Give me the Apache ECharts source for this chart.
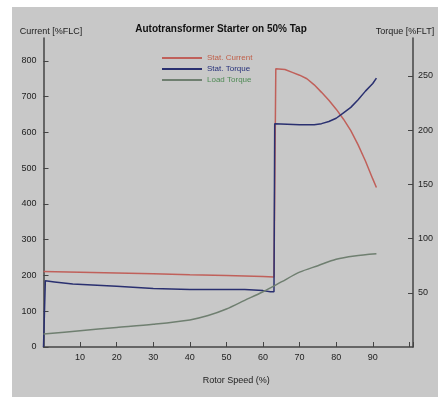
<!DOCTYPE html>
<html>
<head>
<meta charset="utf-8">
<script src="https://cdn.jsdelivr.net/npm/echarts@6/dist/echarts.min.js"></script>
<style>
    html, body { margin: 0; padding: 0; background: #fff; }
    #chart { width: 438px; height: 397px; }
</style>
</head>
<body>
<div id="chart"></div>
<script>
// rotor speed (%) and values
var currentSpeed  = [0, 10, 20, 30, 40, 50, 60, 63, 63.5, 66, 68, 70, 72, 74, 76, 78, 80, 82, 84, 86, 88, 90, 91];
var currentValues = [211, 209, 207, 205, 202, 200, 197, 196, 778, 776, 768, 760, 750, 733, 712, 690, 665, 637, 605, 565, 520, 470, 446];

var torqueSpeed  = [0, 0.5, 3, 8, 20, 30, 40, 55, 60, 62, 63, 63.2, 70, 74, 76, 78, 80, 82, 84, 86, 88, 90, 91];
var torqueValues = [0, 61, 60, 58, 56, 54, 53, 53, 52, 51, 51, 206, 205, 205, 206, 208, 211, 216, 221, 228, 236, 243, 248];

var loadSpeed  = [0, 10, 20, 30, 40, 45, 50, 55, 60, 65, 70, 75, 80, 85, 91];
var loadValues = [12, 15, 18, 21, 25, 29, 35, 43, 51, 60, 69, 75, 81, 84, 86];

var seriesNames = ['Stat. Current', 'Stat. Torque', 'Load Torque'];

function pairs(xs, ys) {
    var out = [];
    for (var i = 0; i < xs.length; i++) {
        out.push([xs[i], ys[i]]);
    }
    return out;
}

var chart = echarts.init(document.getElementById('chart'));

var axisFont = { fontFamily: 'Liberation Sans', fontSize: 9, color: '#222' };

var option = {
    backgroundColor: '#c8c8c8',
    animation: false,
    title: {
        text: 'Autotransformer Starter on 50% Tap',
        left: 216,
        top: 19,
        textAlign: 'center',
        textStyle: { fontFamily: 'Liberation Sans', fontSize: 10, fontWeight: 'bold', color: '#111' }
    },
    legend: {
        orient: 'vertical',
        left: 157,
        top: 49,
        icon: 'rect',
        itemWidth: 40,
        itemHeight: 2,
        itemGap: 3,
        textStyle: { fontFamily: 'Liberation Sans', fontSize: 8 },
        data: [
            { name: seriesNames[0], textStyle: { color: '#c0604a' } },
            { name: seriesNames[1], textStyle: { color: '#26307a' } },
            { name: seriesNames[2], textStyle: { color: '#4f8a55' } }
        ]
    },
    graphic: [
        { type: 'rect', left: 0, top: 0, shape: { width: 12, height: 397 }, style: { fill: '#fff' } },
        { type: 'rect', left: 0, top: 0, shape: { width: 438, height: 7 }, style: { fill: '#fff' } }
    ],
    grid: { left: 43.5, right: 25, top: 38, bottom: 50 },
    xAxis: {
        type: 'value',
        min: 0,
        max: 101,
        interval: 10,
        name: 'Rotor Speed (%)',
        nameLocation: 'middle',
        nameGap: 29,
        nameTextStyle: { fontFamily: 'Liberation Sans', fontSize: 9, color: '#222', padding: [0, 0, 0, 16] },
        axisLine: { lineStyle: { color: '#444', width: 1.5 } },
        axisTick: { inside: true, length: 5, lineStyle: { color: '#444' } },
        axisLabel: Object.assign({
            margin: 6,
            showMinLabel: false,
            formatter: function (v) { return v >= 100 ? '' : v; }
        }, axisFont),
        splitLine: { show: false }
    },
    yAxis: [{
        type: 'value',
        min: 0,
        max: 864,
        interval: 100,
        name: 'Current [%FLC]',
        nameLocation: 'end',
        nameGap: 6,
        nameTextStyle: { fontFamily: 'Liberation Sans', fontSize: 9, color: '#222', align: 'center', verticalAlign: 'middle', padding: [0, 0, 0, 15] },
        axisLine: { show: true, lineStyle: { color: '#444', width: 1.5 } },
        axisTick: { show: true, inside: true, length: 5, lineStyle: { color: '#444' } },
        axisLabel: Object.assign({ margin: 7, showMaxLabel: false }, axisFont),
        splitLine: { show: false }
    }, {
        type: 'value',
        position: 'right',
        min: 0,
        max: 285,
        interval: 50,
        name: 'Torque [%FLT]',
        nameLocation: 'end',
        nameGap: 6,
        nameTextStyle: { fontFamily: 'Liberation Sans', fontSize: 9, color: '#222', align: 'center', verticalAlign: 'middle', padding: [0, 16, 0, 0] },
        axisLine: { show: true, lineStyle: { color: '#444', width: 1.5 } },
        axisTick: { show: true, inside: true, length: 5, lineStyle: { color: '#444' } },
        axisLabel: Object.assign({ margin: 5, showMaxLabel: false, showMinLabel: false }, axisFont),
        splitLine: { show: false }
    }],
    series: [{
        name: seriesNames[0],
        type: 'line',
        yAxisIndex: 0,
        showSymbol: false,
        color: '#c0605a',
        lineStyle: { width: 1.5 },
        data: pairs(currentSpeed, currentValues)
    }, {
        name: seriesNames[1],
        type: 'line',
        yAxisIndex: 1,
        showSymbol: false,
        color: '#2a3070',
        lineStyle: { width: 1.5 },
        data: pairs(torqueSpeed, torqueValues)
    }, {
        name: seriesNames[2],
        type: 'line',
        yAxisIndex: 1,
        showSymbol: false,
        smooth: 0.3,
        color: '#6f7f70',
        lineStyle: { width: 1.5 },
        data: pairs(loadSpeed, loadValues)
    }]
};

chart.setOption(option);
</script>
</body>
</html>
